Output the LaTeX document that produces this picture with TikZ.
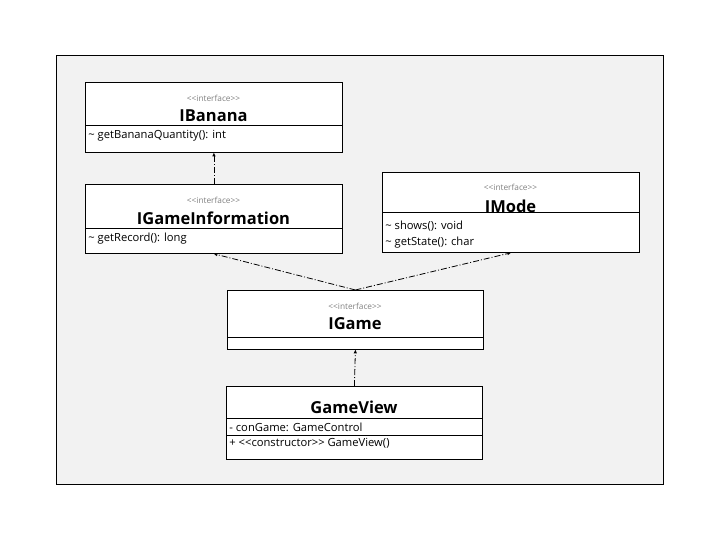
\documentclass[tikz,border=0pt]{standalone}
\usepackage{fontspec}
\setmainfont{Open Sans}
\usetikzlibrary{arrows.meta}
\tikzset{every path/.style={line width=0.8pt},
  classbox/.style={draw, fill=white, minimum width=257pt, inner sep=0pt, anchor=north west},
  stereo/.style={text=gray, font=\fontsize{8.3}{10}\selectfont},
  cname/.style={font=\fontsize{16.5}{20}\selectfont\bfseries},
  member/.style={anchor=west, inner sep=0pt, yshift=-1.5pt, font=\fontsize{11.2}{13}\selectfont},
  realize/.style={dash pattern=on 6pt off 2pt on 1pt off 2pt, -{Triangle[open,length=3.5pt,width=3pt]}}}
\newcommand{\ifc}{<{}<interface>{}>}

\begin{document}
\begin{tikzpicture}[x=1pt,y=-1pt]
   \useasboundingbox (0,0) rectangle (720,540);
   \draw[fill=gray!10] (56,55) rectangle (663,484);
   % IBanana
   \node[classbox, minimum height=43pt] (banana) at (85,82) {};
   \node[stereo] (banana st) at (213.5,98) {\ifc};
   \node[cname]  (banana nm) at (213.5,116) {IBanana};
   \node[classbox, minimum height=27pt] (banana body) at (85,125) {};
   \node[member] (banana m1) at (88,134) {\string~ getBananaQuantity(): int};
   % IGameInformation
   \node[classbox, minimum height=44pt] (ginfo) at (85,184) {};
   \node[stereo] (ginfo st) at (213.5,200) {\ifc};
   \node[cname]  (ginfo nm) at (213.5,218) {IGameInformation};
   \node[classbox, minimum height=25pt] (ginfo body) at (85,228) {};
   \node[member] (ginfo m1) at (88,237) {\string~ getRecord(): long};
   % IMode
   \node[classbox, minimum height=40pt] (mode) at (382,172) {};
   \node[stereo] (mode st) at (510.5,187) {\ifc};
   \node[cname]  (mode nm) at (510.5,206) {IMode};
   \node[classbox, minimum height=40pt] (mode body) at (382,212) {};
   \node[member] (mode m1) at (385,225) {\string~ shows(): void};
   \node[member] (mode m2) at (385,241) {\string~ getState(): char};
   % IGame
   \node[classbox, minimum height=47pt, minimum width=256pt] (igame) at (227,290) {};
   \node[stereo] (igame st) at (355,306) {\ifc};
   \node[cname]  (igame nm) at (355,324) {IGame};
   \node[classbox, minimum height=12pt, minimum width=256pt] (igame body) at (227,337) {};
   % GameView
   \node[classbox, minimum height=32pt, minimum width=256pt] (view) at (226,386) {};
   \node[cname]  (view nm) at (354,407) {GameView};
   \node[classbox, minimum height=17pt, minimum width=256pt] (view attr) at (226,418) {};
   \node[member] (view a1) at (229,426) {- conGame: GameControl};
   \node[classbox, minimum height=24pt, minimum width=256pt] (view ops) at (226,435) {};
   \node[member] (view o1) at (229,442) {+ <{}<constructor>{}> GameView()};
   % realizations
   \draw[realize] (ginfo.north) -- (banana body.south);
   \draw[realize] (igame.north) -- (ginfo body.south);
   \draw[realize] (igame.north) -- (mode body.south);
   \draw[realize] (view.north) -- (igame body.south);
  \end{tikzpicture}
\end{document}
